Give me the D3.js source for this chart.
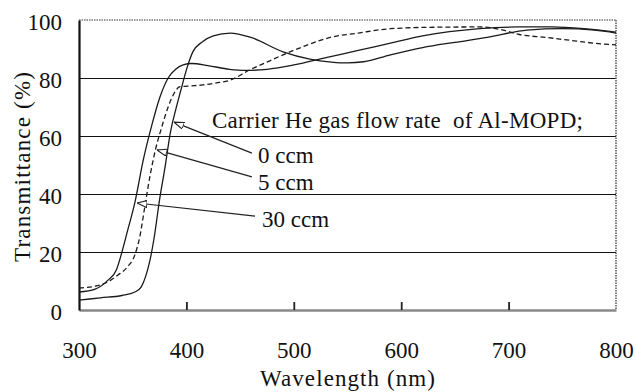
<!DOCTYPE html>
<html>
<head>
<meta charset="utf-8">
<script src="https://cdn.jsdelivr.net/npm/d3@7"></script>
<style>
  body { margin: 0; background: #fff; }
  svg { display: block; }
</style>
</head>
<body>
<div id="main"></div>
<script>
// tick values
const xTicks = [300, 400, 500, 600, 700, 800];
const yTicks = [0, 20, 40, 60, 80, 100];

// 0 ccm
const wl0 = [300, 320, 340, 352, 358, 362, 366, 370, 375, 380, 385, 390, 395, 401, 406, 415, 425, 441, 460, 490, 515, 535, 550, 565, 590, 620, 650, 680, 717, 750, 780, 800];
const tr0 = [3.4, 4.2, 5.0, 6.2, 8, 11.5, 17, 25, 38, 49, 61, 69, 76, 84, 89, 92.5, 94.5, 95.5, 94, 89, 86.5, 85.5, 85.2, 85.6, 88, 90.5, 92.3, 94, 96.5, 97, 96.5, 95.5];

// 5 ccm
const wl5 = [300, 315, 327, 336, 345, 352, 357, 361, 366, 371, 377, 383, 389, 394, 405, 415, 428, 441, 459, 475, 490, 510, 534, 560, 590, 630, 673, 695, 710, 735, 757, 780, 800];
const tr5 = [7.6, 8.2, 9.7, 12, 14.8, 19, 26, 35, 46, 55, 63, 70, 75, 77, 77.3, 77.6, 78.3, 79.3, 82.8, 85.5, 88, 91, 94, 95.5, 97, 97.5, 97.6, 96.5, 95, 94, 93, 92, 91.4];

// 30 ccm
const wl30 = [300, 315, 327, 335, 340, 345, 352, 360, 368, 375, 383, 390, 397, 405, 420, 440, 455, 475, 500, 530, 560, 590, 620, 673, 710, 740, 770, 800];
const tr30 = [6.2, 7.2, 10.3, 14, 20, 27, 37, 52, 64, 73, 80, 83, 84.5, 85, 84.3, 83, 82.6, 83, 84.5, 87, 89.5, 92, 94.5, 97, 97.6, 97.6, 97, 95.8];

const seriesNames = ['0 ccm', '5 ccm', '30 ccm'];
const legendTitle = 'Carrier He gas flow rate  of Al-MOPD;';

// annotation anchors in data units: label, arrow tail, arrow head
const labelPos = [[466.7, 50.7], [466.7, 41.4], [470.4, 28.6]];
const tailPos = [[461, 54.1], [461, 45.9], [463.9, 32.4]];
const headPos = [[388.5, 64.8], [372.6, 55.2], [354, 36.9]];
const legendPos = [423.8, 62.8];

const serif = '"Liberation Serif", "Times New Roman", Times, serif';
const width = 636;
const height = 392;
const plotLeft = 79, plotRight = 616, plotTop = 20, plotBottom = 310;

const svg = d3.select('#main').append('svg')
    .attr('width', width)
    .attr('height', height)
    .style('font-family', serif);

const x = d3.scaleLinear().domain([300, 800]).range([plotLeft, plotRight]);
const y = d3.scaleLinear().domain([0, 100]).range([plotBottom, plotTop]);

// arrowhead
svg.append('defs').append('marker')
    .attr('id', 'head')
    .attr('markerUnits', 'userSpaceOnUse')
    .attr('viewBox', '0 0 10 8')
    .attr('refX', 10).attr('refY', 4)
    .attr('markerWidth', 10).attr('markerHeight', 8)
    .attr('orient', 'auto')
    .append('path')
    .attr('d', 'M0,0.5 L10,4 L0,7.5 Z')
    .attr('fill', '#fff')
    .attr('stroke', '#222')
    .attr('stroke-width', 1.1);

// grid lines
const grid = svg.append('g')
    .attr('transform', `translate(${plotLeft},0)`)
    .call(d3.axisLeft(y).tickValues([20, 40, 60, 80]).tickSize(-(plotRight - plotLeft)).tickFormat(''));
grid.select('.domain').remove();
grid.selectAll('line').attr('stroke', '#111').attr('stroke-width', 1.2);

// top and right border (dotted)
svg.append('line')
    .attr('x1', x(300)).attr('x2', x(800)).attr('y1', y(100)).attr('y2', y(100))
    .attr('stroke', '#777').attr('stroke-width', 1.5).attr('stroke-dasharray', '1.5,1');
svg.append('line')
    .attr('x1', x(800)).attr('x2', x(800)).attr('y1', y(100)).attr('y2', y(0))
    .attr('stroke', '#555').attr('stroke-width', 1.5).attr('stroke-dasharray', '1.5,1');

// x axis
const xAxis = svg.append('g')
    .attr('transform', `translate(0,${plotBottom})`)
    .call(d3.axisBottom(x).tickValues(xTicks).tickSizeInner(-8).tickSizeOuter(0).tickFormat(d3.format('d')));
xAxis.attr('font-family', null);
xAxis.select('.domain').attr('stroke', '#888').attr('stroke-width', 2.5);
xAxis.selectAll('.tick line').attr('stroke', '#222').attr('stroke-width', 1.8)
    .attr('display', (d) => (d === 300 || d === 800) ? 'none' : null);
xAxis.selectAll('.tick text')
    .attr('y', 48).attr('dy', 0)
    .attr('font-size', 23)
    .style('font-family', serif)
    .attr('fill', '#111');

// y axis
const yAxis = svg.append('g')
    .attr('transform', `translate(${plotLeft},0)`)
    .call(d3.axisLeft(y).tickValues(yTicks).tickSize(0).tickPadding(17));
yAxis.attr('font-family', null);
yAxis.select('.domain').attr('stroke', '#111').attr('stroke-width', 2.2);
yAxis.selectAll('.tick text')
    .attr('dy', '0.42em')
    .attr('font-size', 23)
    .style('font-family', serif)
    .attr('fill', '#111');

// curves
const lineGen = d3.line()
    .x((d) => x(d[0]))
    .y((d) => y(d[1]))
    .curve(d3.curveMonotoneX);

const series = [
    { name: seriesNames[0], wl: wl0, tr: tr0, dash: null },
    { name: seriesNames[1], wl: wl5, tr: tr5, dash: '5,3' },
    { name: seriesNames[2], wl: wl30, tr: tr30, dash: null }
];

svg.append('g').selectAll('path')
    .data(series)
    .enter()
    .append('path')
    .attr('fill', 'none')
    .attr('stroke', '#1a1a1a')
    .attr('stroke-width', 1.3)
    .attr('stroke-dasharray', (d) => d.dash)
    .attr('d', (d) => lineGen(d.wl.map((w, i) => [w, d.tr[i]])));

// annotations
svg.append('text')
    .attr('x', x(legendPos[0])).attr('y', y(legendPos[1]))
    .attr('font-size', 23)
    .attr('fill', '#111')
    .style('font-family', serif)
    .attr('textLength', 371)
    .attr('xml:space', 'preserve')
    .text(legendTitle);

const ann = svg.append('g');
seriesNames.forEach((name, i) => {
    ann.append('line')
        .attr('x1', x(tailPos[i][0])).attr('y1', y(tailPos[i][1]))
        .attr('x2', x(headPos[i][0])).attr('y2', y(headPos[i][1]))
        .attr('stroke', '#222')
        .attr('stroke-width', 1.2)
        .attr('marker-end', 'url(#head)');
    ann.append('text')
        .attr('x', x(labelPos[i][0])).attr('y', y(labelPos[i][1]))
        .attr('font-size', 23)
        .attr('fill', '#111')
        .style('font-family', serif)
        .text(name);
});

// axis titles
svg.append('text')
    .attr('x', (plotLeft + plotRight) / 2).attr('y', 386)
    .attr('text-anchor', 'middle')
    .attr('font-size', 23)
    .attr('fill', '#111')
    .style('font-family', serif)
    .attr('textLength', 175)
    .text('Wavelength (nm)');

svg.append('text')
    .attr('transform', 'translate(30,167) rotate(-90)')
    .attr('text-anchor', 'middle')
    .attr('font-size', 23)
    .attr('fill', '#111')
    .style('font-family', serif)
    .attr('textLength', 190)
    .text('Transmittance (%)');
</script>
</body>
</html>
